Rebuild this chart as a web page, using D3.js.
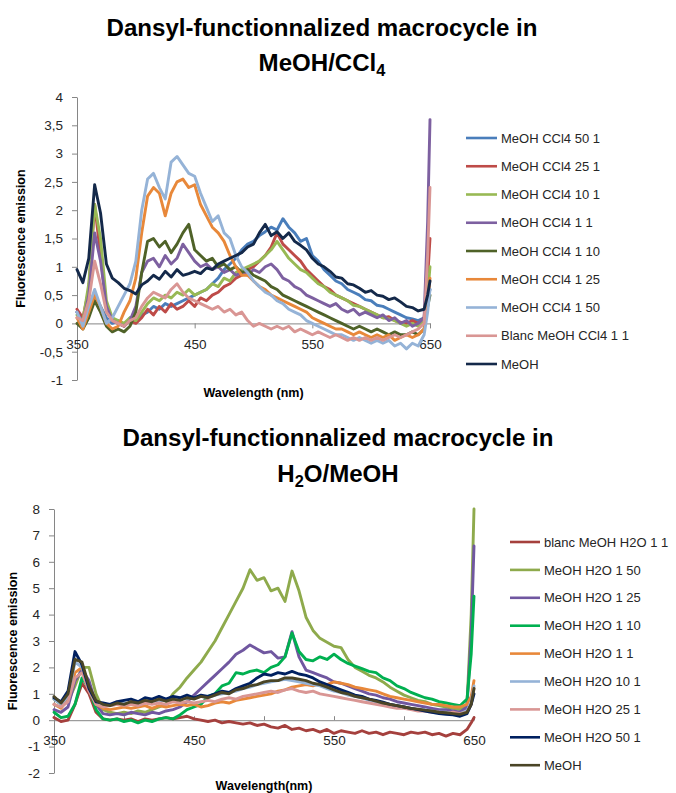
<!DOCTYPE html>
<html><head><meta charset="utf-8">
<script src="https://cdn.jsdelivr.net/npm/d3@7"></script>
<style>body{margin:0;background:#fff}svg{display:block}</style>
</head><body>
<svg id="c" width="676" height="793"></svg>
<script>
// ---------- DATA ----------
const wavelengths = [350,355,360,365,370,375,380,385,390,395,400,405,410,415,420,425,430,435,440,445,450,455,460,465,470,475,480,485,490,495,500,505,510,515,520,525,530,535,540,545,550,555,560,565,570,575,580,585,590,595,600,605,610,615,620,625,630,635,640,645,648,650];

// Chart 1: MeOH/CCl4
const ccl4Labels = ["MeOH CCl4 50 1","MeOH CCl4 25 1","MeOH CCl4 10 1","MeOH CCl4 1 1","MeOH CCl4 1 10","MeOH CCl4 1 25","MeOH CCl4 1 50","Blanc MeOH CCl4 1 1","MeOH"];
const ccl4_50_1 = [0.2,0.05,0.15,0.5,0.3,0.1,0.0,0.05,-0.05,0.1, 0.05,0.15,0.2,0.3,0.25,0.35,0.3,0.35,0.4,0.45, 0.5,0.55,0.6,0.7,0.8,0.95,1.05,1.15,1.3,1.4, 1.45,1.55,1.62,1.7,1.65,1.85,1.7,1.6,1.45,1.5, 1.2,1.1,0.95,0.85,0.75,0.7,0.6,0.55,0.5,0.42, 0.4,0.32,0.3,0.25,0.2,0.15,0.1,0.08,0.05,0.1, 0.4,0.6];
const ccl4_25_1 = [0.25,0.1,0.6,2.1,1.2,0.3,0.05,0.0,-0.05,0.05, 0.0,0.1,0.25,0.15,0.3,0.2,0.35,0.25,0.3,0.4, 0.3,0.45,0.4,0.5,0.55,0.65,0.7,0.8,0.85,0.95, 1.0,1.1,1.2,1.35,1.6,1.4,1.3,1.2,1.1,0.95, 0.85,0.75,0.65,0.6,0.5,0.45,0.4,0.35,0.3,0.25, 0.2,0.15,0.1,0.12,0.05,0.02,0.0,0.05,0.0,0.1, 0.8,1.5];
const ccl4_10_1 = [0.15,0.05,0.7,2.1,1.5,0.4,0.1,0.05,0.0,0.1, 0.05,0.2,0.35,0.45,0.4,0.5,0.45,0.55,0.5,0.6, 0.5,0.55,0.6,0.7,0.65,0.8,0.75,0.9,0.95,1.0, 1.05,1.1,1.2,1.3,1.45,1.3,1.15,1.05,0.95,0.9, 0.8,0.7,0.65,0.55,0.5,0.45,0.4,0.32,0.3,0.25, 0.2,0.15,0.1,0.08,0.05,0.0,-0.05,0.0,-0.05,0.05, 0.5,1.0];
const ccl4_1_1 = [0.2,0.0,0.5,1.6,1.1,0.3,0.05,0.0,-0.05,0.05, 0.3,0.9,1.1,1.15,1.0,1.2,1.05,1.15,1.4,1.25, 1.1,1.0,1.05,0.95,1.0,0.9,0.95,0.85,0.9,0.85, 0.95,0.9,1.0,1.05,0.95,0.8,0.75,0.65,0.6,0.5, 0.45,0.4,0.35,0.3,0.35,0.25,0.2,0.25,0.15,0.2, 0.15,0.1,0.15,0.05,0.1,0.0,0.05,-0.05,0.0,0.1, 1.8,3.6];
const ccl4_1_10 = [0.0,-0.1,0.1,0.4,0.2,-0.05,-0.15,-0.1,-0.15,-0.05, 0.2,0.9,1.45,1.5,1.35,1.45,1.25,1.4,1.6,1.75, 1.3,1.2,1.1,1.15,1.0,1.05,0.95,1.0,0.9,0.95, 0.85,0.8,0.75,0.65,0.6,0.5,0.45,0.4,0.35,0.3, 0.25,0.2,0.15,0.1,0.05,0.0,-0.05,-0.1,-0.05,-0.1, -0.15,-0.1,-0.15,-0.2,-0.15,-0.2,-0.2,-0.15,-0.2,-0.1, 0.3,0.5];
const ccl4_1_25 = [0.1,-0.1,0.2,0.5,0.3,0.0,-0.1,-0.05,0.2,0.4, 0.8,1.6,2.25,2.4,2.3,1.9,2.3,2.5,2.55,2.4, 2.45,2.1,1.9,1.7,1.6,1.45,1.2,1.0,0.85,0.85, 0.75,0.65,0.6,0.5,0.45,0.4,0.35,0.3,0.25,0.2, 0.1,0.05,0.0,-0.05,-0.1,-0.1,-0.15,-0.2,-0.15,-0.2, -0.25,-0.2,-0.25,-0.2,-0.3,-0.25,-0.2,-0.25,-0.2,-0.1, 0.3,0.8];
const ccl4_1_50 = [0.2,-0.05,0.3,0.6,0.3,0.0,0.1,0.3,0.5,0.7, 1.1,2.0,2.55,2.65,2.4,2.2,2.85,2.95,2.8,2.65, 2.6,2.3,2.05,1.8,1.9,1.6,1.5,1.2,1.0,0.9, 0.75,0.65,0.55,0.5,0.4,0.35,0.25,0.2,0.15,0.05, 0.0,-0.05,-0.1,-0.15,-0.2,-0.2,-0.25,-0.3,-0.25,-0.3, -0.35,-0.3,-0.35,-0.3,-0.4,-0.35,-0.45,-0.35,-0.4,-0.2, 0.2,0.6];
const ccl4_blanc = [0.1,0.05,0.4,1.1,0.7,0.2,0.05,0.0,-0.05,0.05, 0.1,0.3,0.45,0.55,0.5,0.45,0.6,0.7,0.55,0.45, 0.4,0.35,0.3,0.25,0.3,0.2,0.25,0.15,0.2,0.05, -0.05,0.0,-0.05,-0.1,-0.05,-0.1,-0.05,-0.15,-0.1,-0.15, -0.2,-0.15,-0.2,-0.25,-0.2,-0.25,-0.3,-0.25,-0.3,-0.25, -0.3,-0.25,-0.3,-0.25,-0.2,-0.25,-0.2,-0.15,-0.1,0.0, 1.2,2.4];
const ccl4_meoh = [0.95,0.72,1.15,2.45,1.95,1.05,0.8,0.72,0.62,0.58, 0.52,0.68,0.75,0.85,0.78,0.92,0.82,0.95,0.85,0.88, 0.92,0.88,0.98,0.95,1.05,1.1,1.15,1.2,1.25,1.35, 1.4,1.6,1.75,1.55,1.62,1.5,1.6,1.45,1.38,1.3, 1.15,1.05,1.0,0.92,0.82,0.8,0.7,0.68,0.62,0.55, 0.58,0.5,0.48,0.42,0.45,0.38,0.3,0.28,0.22,0.25, 0.5,0.75];
const ccl4Series = [ccl4_50_1,ccl4_25_1,ccl4_10_1,ccl4_1_1,ccl4_1_10,ccl4_1_25,ccl4_1_50,ccl4_blanc,ccl4_meoh];
const ccl4YTicks = [-1,-0.5,0,0.5,1,1.5,2,2.5,3,3.5,4];
const ccl4XTicks = [350,450,550,650];

// Chart 2: H2O/MeOH
const h2oLabels = ["blanc MeOH H2O 1 1","MeOH H2O 1 50","MeOH H2O 1 25","MeOH H2O 1 10","MeOH H2O 1 1","MeOH H2O 10 1","MeOH H2O 25 1","MeOH H2O 50 1","MeOH"];
const h2o_blanc = [0.1,-0.05,0.0,0.6,1.4,1.0,0.3,0.05,0.0,0.05, 0.0,0.05,-0.05,0.05,0.0,0.05,0.1,0.05,0.1,0.15, 0.05,0.0,-0.05,0.0,-0.1,-0.05,-0.1,-0.15,-0.1,-0.2, -0.15,-0.25,-0.3,-0.2,-0.35,-0.3,-0.4,-0.35,-0.45,-0.35, -0.5,-0.4,-0.45,-0.5,-0.4,-0.5,-0.45,-0.55,-0.45,-0.5, -0.55,-0.45,-0.5,-0.45,-0.55,-0.5,-0.6,-0.5,-0.55,-0.35, -0.1,0.1];
const h2o_1_50 = [0.8,0.6,0.7,1.3,2.0,2.0,1.0,0.4,0.3,0.25, 0.3,0.25,0.35,0.3,0.4,0.5,0.6,1.0,1.25,1.6, 1.9,2.2,2.6,3.0,3.5,4.0,4.5,5.0,5.7,5.3, 5.4,4.9,5.0,4.5,5.65,4.9,3.9,3.4,3.1,2.95, 2.8,2.75,2.3,2.0,1.85,1.7,1.6,1.45,1.25,1.1, 0.95,0.85,0.75,0.7,0.6,0.55,0.5,0.45,0.4,0.6, 4.0,8.0];
const h2o_1_25 = [0.4,0.3,0.5,1.5,1.9,1.5,0.6,0.25,0.2,0.25, 0.2,0.3,0.25,0.2,0.3,0.25,0.35,0.4,0.5,0.7, 0.95,1.2,1.45,1.7,1.95,2.2,2.5,2.65,2.85,2.7, 2.55,2.6,2.35,2.4,3.35,2.4,1.9,1.8,1.7,1.6, 1.45,1.4,1.3,1.2,1.1,1.0,0.95,0.85,0.8,0.7, 0.65,0.6,0.55,0.5,0.45,0.4,0.4,0.35,0.3,0.5, 3.3,6.6];
const h2o_1_10 = [0.3,0.1,0.15,0.6,1.6,1.2,0.4,0.05,0.0,0.05, -0.05,0.0,-0.1,0.0,-0.05,0.05,0.1,0.05,0.2,0.4, 0.5,0.6,0.9,1.0,1.3,1.4,1.8,1.75,1.85,1.9, 1.8,2.0,2.1,2.4,3.3,2.6,2.3,2.25,2.4,2.3, 2.5,2.3,2.15,2.05,1.95,1.85,1.8,1.6,1.5,1.3, 1.2,1.05,0.95,0.85,0.8,0.7,0.65,0.6,0.55,0.8, 2.5,4.7];
const h2o_1_1 = [0.6,0.45,0.8,1.8,2.0,1.2,0.6,0.45,0.4,0.45, 0.5,0.45,0.5,0.55,0.45,0.55,0.5,0.55,0.6,0.55, 0.6,0.5,0.55,0.65,0.7,0.65,0.75,0.8,0.85,0.9, 0.95,1.0,1.1,1.15,1.25,1.3,1.35,1.3,1.4,1.35, 1.45,1.4,1.35,1.25,1.2,1.15,1.1,1.0,0.9,0.85, 0.8,0.75,0.7,0.65,0.6,0.6,0.55,0.5,0.5,0.6, 0.9,1.5];
const h2o_10_1 = [0.8,0.6,0.9,2.2,2.0,1.2,0.7,0.6,0.55,0.6, 0.65,0.6,0.7,0.65,0.75,0.7,0.8,0.75,0.85,0.8, 0.85,0.9,0.85,0.95,1.0,1.05,1.1,1.2,1.25,1.35, 1.4,1.45,1.5,1.55,1.5,1.45,1.4,1.35,1.3,1.2, 1.1,1.05,0.95,0.9,0.85,0.75,0.7,0.65,0.6,0.55, 0.5,0.45,0.4,0.4,0.35,0.3,0.3,0.25,0.25,0.35, 0.7,1.3];
const h2o_25_1 = [0.6,0.5,0.7,1.6,1.8,1.1,0.6,0.5,0.55,0.6, 0.55,0.6,0.55,0.65,0.6,0.65,0.6,0.7,0.65,0.7, 0.65,0.7,0.75,0.7,0.8,0.85,0.8,0.9,0.95,1.0, 1.05,1.1,1.05,1.15,1.2,1.1,1.05,1.1,1.0,0.95, 0.9,0.85,0.8,0.75,0.7,0.65,0.6,0.55,0.5,0.45, 0.45,0.4,0.35,0.35,0.3,0.3,0.25,0.3,0.25,0.3, 0.6,1.2];
const h2o_50_1 = [0.85,0.7,1.1,2.6,2.1,1.2,0.7,0.65,0.6,0.7, 0.75,0.8,0.7,0.85,0.8,0.9,0.8,0.9,0.85,0.95, 0.85,0.95,0.9,1.0,1.1,1.05,1.2,1.3,1.4,1.6, 1.75,1.7,1.8,1.75,1.85,1.75,1.7,1.6,1.45,1.35, 1.25,1.15,1.05,0.95,0.9,0.8,0.75,0.68,0.6,0.55, 0.5,0.45,0.4,0.35,0.3,0.25,0.22,0.2,0.15,0.25, 0.6,1.0];
const h2o_meoh = [0.9,0.65,1.0,2.3,2.2,1.3,0.75,0.6,0.55,0.65, 0.6,0.7,0.65,0.75,0.7,0.8,0.72,0.8,0.75,0.85, 0.8,0.9,0.85,0.95,1.05,1.0,1.15,1.2,1.3,1.35, 1.45,1.5,1.5,1.6,1.6,1.55,1.5,1.4,1.35,1.25, 1.15,1.05,1.0,0.9,0.85,0.8,0.72,0.65,0.6,0.55, 0.5,0.45,0.42,0.38,0.35,0.3,0.28,0.25,0.22,0.3, 0.6,1.2];
const h2oSeries = [h2o_blanc,h2o_1_50,h2o_1_25,h2o_1_10,h2o_1_1,h2o_10_1,h2o_25_1,h2o_50_1,h2o_meoh];
const h2oYTicks = [-2,-1,0,1,2,3,4,5,6,7,8];
const h2oXTicks = [350,400,450,500,550,600,650];

// ---------- STYLE / LAYOUT ----------
const ccl4Colors = ["#4A7EBB","#BE4B48","#98B954","#7D60A0","#4F6228","#E8883A","#95B3D7","#D99694","#14294A"];
const h2oColors  = ["#A5403D","#8EAA4C","#7057A0","#00B050","#E8883A","#95B3D7","#D99694","#002060","#4A4526"];
const FONT = "'Liberation Sans', Arial, sans-serif";
const svg = d3.select("#c");

function drawChart(o) {
  const g = svg.append("g");
  const x = d3.scaleLinear().domain([350,650]).range(o.xr);
  const y = d3.scaleLinear().domain(o.yDomain).range(o.yr);

  // title
  const t1 = g.append("text").attr("x", o.titleX).attr("y", o.titleY1)
    .attr("text-anchor","middle").attr("font-family",FONT).attr("font-weight","bold")
    .attr("font-size",24).attr("fill","#000").text("Dansyl-functionnalized macrocycle in");
  const w = t1.node().getComputedTextLength();
  const fs = 24 * o.titleW / w;
  t1.attr("font-size", fs);
  const t2 = g.append("text").attr("x", o.titleX).attr("y", o.titleY2)
    .attr("text-anchor","middle").attr("font-family",FONT).attr("font-weight","bold")
    .attr("font-size",fs).attr("fill","#000");
  o.title2(t2, fs);

  // axes
  const yAxis = d3.axisLeft(y).tickValues(o.yTicks).tickSizeInner(5).tickSizeOuter(0).tickPadding(9)
    .tickFormat(d => String(d).replace(".", ","));
  const ya = g.append("g").attr("transform",`translate(${o.xr[0]},0)`).call(yAxis);
  const xAxis = d3.axisBottom(x).tickValues(o.xTicks).tickSizeInner(o.xTickSize).tickSizeOuter(0)
    .tickPadding(o.xTickPad).tickFormat(d => ((d-350)%100===0 ? d : ""));
  const xa = g.append("g").attr("transform",`translate(0,${y(0)})`).call(xAxis);
  [ya, xa].forEach(a => {
    a.select(".domain").attr("stroke","#868686").attr("stroke-width",1);
    a.selectAll(".tick line").attr("stroke","#868686");
    a.selectAll("text").attr("font-family",FONT).attr("font-size",13.5).attr("fill","#262626");
  });

  // series lines
  const line = d3.line().x((d,i) => x(wavelengths[i])).y(d => y(d));
  g.append("g").selectAll("path").data(o.series).join("path")
    .attr("d", d => line(d)).attr("fill","none")
    .attr("stroke", (d,i) => o.colors[i]).attr("stroke-width",2.9)
    .attr("stroke-linejoin","round").attr("stroke-linecap","round");

  // axis titles
  g.append("text").attr("transform",`translate(${o.yTitleX},${(o.yr[0]+o.yr[1])/2}) rotate(-90)`)
    .attr("text-anchor","middle").attr("font-family",FONT).attr("font-weight","bold")
    .attr("font-size",12.5).attr("fill","#000").text("Fluorescence emission");
  g.append("text").attr("x",(o.xr[0]+o.xr[1])/2).attr("y",o.xTitleY)
    .attr("text-anchor","middle").attr("font-family",FONT).attr("font-weight","bold")
    .attr("font-size",12.5).attr("fill","#000").text(o.xTitle);

  // legend
  const lg = g.append("g").selectAll("g").data(o.labels).join("g")
    .attr("transform",(d,i) => `translate(${o.legX},${o.legY + i*o.legStep})`);
  lg.append("line").attr("x1",0).attr("x2",o.legLine).attr("y1",0).attr("y2",0)
    .attr("stroke",(d,i) => o.colors[i]).attr("stroke-width",2.6);
  lg.append("text").attr("x",o.legLine+4).attr("y",4.6)
    .attr("font-family",FONT).attr("font-size",13).attr("fill","#262626").text(d => d);
}

drawChart({
  xr:[77,430], yr:[380,97], yDomain:[-1,4], yTicks:ccl4YTicks, xTicks:ccl4XTicks,
  xTickSize:5, xTickPad:11,
  series:ccl4Series, colors:ccl4Colors, labels:ccl4Labels,
  titleX:322, titleY1:36, titleY2:71, titleW:431,
  title2:(t,fs) => { t.append("tspan").text("MeOH/CCl"); t.append("tspan").attr("font-size",fs*0.68).attr("dy",5).text("4"); },
  yTitleX:25, xTitleY:397, xTitle:"Wavelength (nm)",
  legX:466, legY:138, legStep:28.25, legLine:31
});

drawChart({
  xr:[54,474], yr:[773,509], yDomain:[-2,8], yTicks:h2oYTicks, xTicks:h2oXTicks,
  xTickSize:-4, xTickPad:15.5,
  series:h2oSeries, colors:h2oColors, labels:h2oLabels,
  titleX:338, titleY1:446, titleY2:482, titleW:431,
  title2:(t,fs) => { t.append("tspan").text("H"); t.append("tspan").attr("font-size",fs*0.68).attr("dy",5).text("2"); t.append("tspan").attr("dy",-5).text("O/MeOH"); },
  yTitleX:17, xTitleY:790, xTitle:"Wavelength(nm)",
  legX:510, legY:542, legStep:27.9, legLine:30
});
</script>
</body></html>
